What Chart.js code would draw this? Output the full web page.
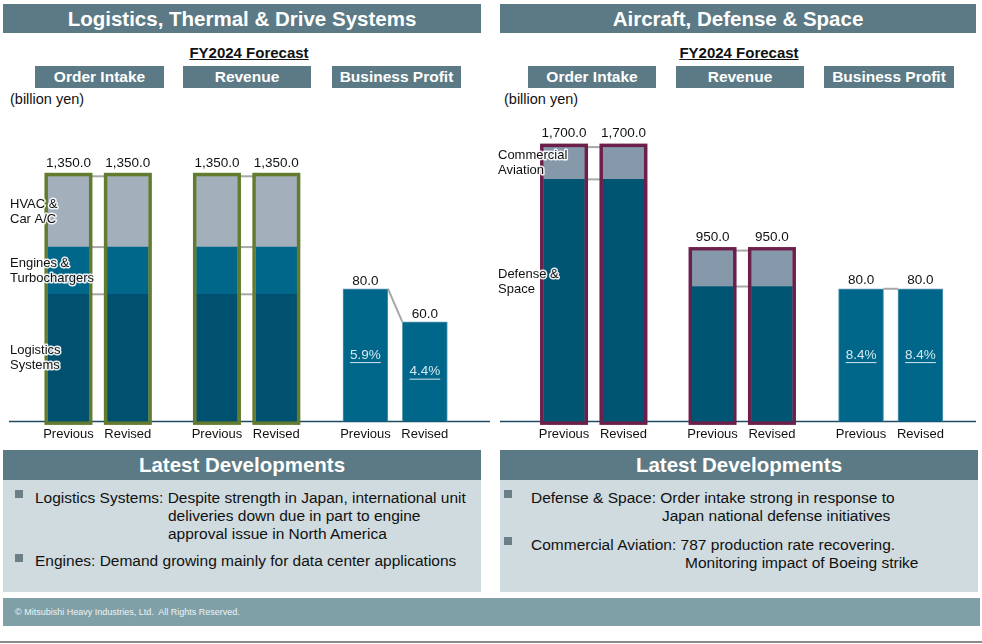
<!DOCTYPE html>
<html>
<head>
<meta charset="utf-8">
<script src="https://cdn.jsdelivr.net/npm/chart.js@4.4.1/dist/chart.umd.min.js"></script>
<style>
  body { margin: 0; background: #fff; font-family: "Liberation Sans", Arial, sans-serif; color: #111; }
  #page { position: relative; width: 982px; height: 644px; overflow: hidden; }
  .band { position: absolute; background: #5b7a85; color: #fff; font-weight: bold; text-align: center; }
  .title { top: 4px; height: 29px; line-height: 29px; font-size: 20.5px; }
  .sub { top: 66px; height: 22px; line-height: 22px; font-size: 15.5px; }
  .ld { top: 450px; height: 30px; line-height: 30px; font-size: 20.5px; }
  .fy { position: absolute; top: 44px; width: 200px; font-size: 15px; font-weight: bold; text-decoration: underline; text-align: center; }
  .unit { position: absolute; top: 91px; font-size: 14.5px; }
  .body { position: absolute; top: 480px; height: 112px; background: #cfdbdf; }
  .line { position: absolute; font-size: 15.5px; white-space: nowrap; line-height: 18px; }
  .sq { position: absolute; width: 8px; height: 8px; background: #6b7f89; }
  #footer { position: absolute; left: 3px; top: 598px; width: 977px; height: 28px; background: #80a0a8; }
  #footer span { position: absolute; left: 12px; top: 9px; font-size: 9px; color: #eef3f5; }
  #rule { position: absolute; left: 0; top: 641px; width: 982px; height: 2px; background: #8a8a8a; }
  canvas { position: absolute; }
</style>
</head>
<body>
<div id="page">
  <div class="band title" style="left:3px;width:478px">Logistics, Thermal &amp; Drive Systems</div>
  <div class="band title" style="left:500px;width:476px">Aircraft, Defense &amp; Space</div>

  <div class="fy" style="left:149px">FY2024 Forecast</div>
  <div class="fy" style="left:639px">FY2024 Forecast</div>

  <div class="band sub" style="left:35px;width:129px">Order Intake</div>
  <div class="band sub" style="left:183px;width:128px">Revenue</div>
  <div class="band sub" style="left:332px;width:129px">Business Profit</div>
  <div class="band sub" style="left:528px;width:128px">Order Intake</div>
  <div class="band sub" style="left:676px;width:128px">Revenue</div>
  <div class="band sub" style="left:824px;width:130px">Business Profit</div>

  <div class="unit" style="left:10px">(billion yen)</div>
  <div class="unit" style="left:504px">(billion yen)</div>

  <canvas id="ltdChart" width="490" height="340" style="left:0;top:110px"></canvas>
  <canvas id="adsChart" width="492" height="340" style="left:490px;top:110px"></canvas>

  <div class="band ld" style="left:3px;width:478px">Latest Developments</div>
  <div class="band ld" style="left:500px;width:478px">Latest Developments</div>
  <div class="body" style="left:3px;width:478px"></div>
  <div class="body" style="left:500px;width:478px"></div>

  <div class="sq" style="left:15px;top:490px"></div>
  <div class="line" style="left:35px;top:489px">Logistics Systems: Despite strength in Japan, international unit</div>
  <div class="line" style="left:168px;top:507px">deliveries down due in part to engine</div>
  <div class="line" style="left:168px;top:525px">approval issue in North America</div>
  <div class="sq" style="left:15px;top:554px"></div>
  <div class="line" style="left:35px;top:552px">Engines: Demand growing mainly for data center applications</div>

  <div class="sq" style="left:504px;top:490px"></div>
  <div class="line" style="left:531px;top:489px">Defense &amp; Space: Order intake strong in response to</div>
  <div class="line" style="left:662px;top:507px">Japan national defense initiatives</div>
  <div class="sq" style="left:504px;top:537px"></div>
  <div class="line" style="left:531px;top:536px">Commercial Aviation: 787 production rate recovering.</div>
  <div class="line" style="left:685px;top:554px">Monitoring impact of Boeing strike</div>

  <div id="footer"><span>&copy; Mitsubishi Heavy Industries, Ltd.&nbsp; All Rights Reserved.</span></div>
  <div id="rule"></div>
</div>

<script>
const periods = ["Previous", "Revised"];

// Logistics, Thermal & Drive Systems (billion yen)
const ltdLogisticsOrder = [700, 700];
const ltdEnginesOrder = [260, 260];
const ltdHvacOrder = [390, 390];
const ltdLogisticsRevenue = [700, 700];
const ltdEnginesRevenue = [260, 260];
const ltdHvacRevenue = [390, 390];
const ltdProfit = [80, 60];
const ltdMargin = ["5.9%", "4.4%"];

// Aircraft, Defense & Space (billion yen)
const adsDefenseOrder = [1500, 1500];
const adsCommercialOrder = [200, 200];
const adsDefenseRevenue = [750, 750];
const adsCommercialRevenue = [200, 200];
const adsProfit = [80, 80];
const adsMargin = ["8.4%", "8.4%"];

// each panel is one category axis; bars sit on some slots, the rest are gaps
const slotCount = 13;
const orderSlots = [0, 2];
const revenueSlots = [5, 7];
const profitSlots = [10, 12];

function spread(values, slots) {
  const out = new Array(slotCount).fill(null);
  slots.forEach((s, i) => { out[s] = values[i]; });
  return out;
}

const slotLabels = new Array(slotCount).fill("");
[orderSlots, revenueSlots, profitSlots].forEach(slots => {
  slots.forEach((s, i) => { slotLabels[s] = periods[i]; });
});

const FONT = '"Liberation Sans", Arial, sans-serif';

function fmt(v) {
  return v.toLocaleString("en-US", { minimumFractionDigits: 1, maximumFractionDigits: 1 });
}

// frames, connector lines, totals, margins and segment names
function makeDecor(cfg) {
  return {
    id: "slideDecor",
    beforeDatasetsDraw(chart) {
      const ctx = chart.ctx;
      const y0 = chart.scales[cfg.baseAxis].getPixelForValue(0);
      ctx.save();
      ctx.strokeStyle = "#1d4b63";
      ctx.lineWidth = 1.5;
      ctx.beginPath();
      ctx.moveTo(cfg.baseFrom, y0);
      ctx.lineTo(cfg.baseTo, y0);
      ctx.stroke();

      ctx.strokeStyle = "#a8a8a8";
      ctx.lineWidth = 2;
      cfg.groups.forEach(g => {
        const [a, b] = g.slots;
        g.datasets.forEach(d => {
          const els = chart.getDatasetMeta(d).data;
          ctx.beginPath();
          ctx.moveTo(els[a].x + els[a].width / 2, els[a].y);
          ctx.lineTo(els[b].x - els[b].width / 2, els[b].y);
          ctx.stroke();
        });
      });
      ctx.restore();
    },
    afterDatasetsDraw(chart) {
      const ctx = chart.ctx;
      const y0 = chart.scales[cfg.baseAxis].getPixelForValue(0);
      ctx.save();
      cfg.groups.forEach(g => {
        g.slots.forEach(s => {
          let top = y0, x = 0, w = 0, total = 0;
          g.datasets.forEach(d => {
            const el = chart.getDatasetMeta(d).data[s];
            top = Math.min(top, el.y);
            x = el.x;
            w = el.width;
            total += chart.data.datasets[d].data[s];
          });
          if (g.frame) {
            ctx.strokeStyle = g.frame;
            ctx.lineWidth = 3.5;
            ctx.strokeRect(x - w / 2 - 1.75, top - 1.75, w + 3.5, y0 - top + 3.5);
          }
          ctx.fillStyle = "#111";
          ctx.font = "13.5px " + FONT;
          ctx.textAlign = "center";
          ctx.textBaseline = "middle";
          ctx.fillText(fmt(total), x, top - g.labelGap);
        });
        if (g.margins) {
          g.slots.forEach((s, i) => {
            const el = chart.getDatasetMeta(g.datasets[0]).data[s];
            const ym = (el.y + el.base) / 2;
            const txt = g.margins[i];
            ctx.font = "13.5px " + FONT;
            ctx.fillStyle = "#d4e7f0";
            ctx.fillText(txt, el.x, ym);
            const tw = ctx.measureText(txt).width;
            ctx.fillRect(el.x - tw / 2, ym + 7, tw, 1);
          });
        }
      });

      ctx.font = "13px " + FONT;
      ctx.textAlign = "left";
      ctx.textBaseline = "middle";
      ctx.lineJoin = "round";
      cfg.segments.forEach(sg => {
        const el = chart.getDatasetMeta(sg.dataset).data[sg.slot];
        const mid = (el.y + el.base) / 2 + (sg.shift || 0);
        sg.lines.forEach((t, i) => {
          const y = mid + (i - (sg.lines.length - 1) / 2) * 15;
          ctx.strokeStyle = "rgba(255,255,255,0.9)";
          ctx.lineWidth = 3;
          ctx.strokeText(t, cfg.labelX, y);
          ctx.fillStyle = "#111";
          ctx.fillText(t, cfg.labelX, y);
        });
      });
      ctx.restore();
    }
  };
}

function baseOptions(padLeft, padRight, yScales) {
  const scales = {
    x: {
      stacked: true,
      grid: { display: false, drawTicks: false },
      border: { display: false },
      ticks: {
        autoSkip: false, maxRotation: 0, minRotation: 0, padding: 5,
        color: "#111", font: { family: FONT, size: 13 }
      }
    }
  };
  Object.keys(yScales).forEach(id => {
    scales[id] = { stacked: true, display: false, min: 0, max: yScales[id] };
  });
  return {
    responsive: false,
    animation: false,
    layout: { padding: { left: padLeft, right: padRight, top: 10, bottom: 3 } },
    scales: scales,
    plugins: {
      legend: { display: false },
      tooltip: { enabled: false }
    }
  };
}

const C_LOG = "#00516f";
const C_ENG = "#00678a";
const C_HVAC = "#a3b0bb";
const C_DEF = "#005672";
const C_COM = "#8599aa";
const C_PROFIT = "#00678a";

function stackBar(label, values, slots, color, axis) {
  return {
    label, data: spread(values, slots), backgroundColor: color, yAxisID: axis, stack: "s",
    barThickness: 41, clip: false
  };
}
function profitBar(label, values, color, axis) {
  return {
    label, data: spread(values, profitSlots), backgroundColor: color, yAxisID: axis, stack: "s",
    barThickness: 45, borderWidth: 1, borderColor: "#5e9bb3", clip: false
  };
}

new Chart(document.getElementById("ltdChart"), {
  type: "bar",
  data: {
    labels: slotLabels,
    datasets: [
      stackBar("Logistics Systems", ltdLogisticsOrder, orderSlots, C_LOG, "yMain"),
      stackBar("Engines & Turbochargers", ltdEnginesOrder, orderSlots, C_ENG, "yMain"),
      stackBar("HVAC & Car A/C", ltdHvacOrder, orderSlots, C_HVAC, "yMain"),
      stackBar("Logistics Systems", ltdLogisticsRevenue, revenueSlots, C_LOG, "yMain"),
      stackBar("Engines & Turbochargers", ltdEnginesRevenue, revenueSlots, C_ENG, "yMain"),
      stackBar("HVAC & Car A/C", ltdHvacRevenue, revenueSlots, C_HVAC, "yMain"),
      profitBar("Business Profit", ltdProfit, C_PROFIT, "yProfit")
    ]
  },
  options: baseOptions(53.6, 50.3, { yMain: 1660, yProfit: 181.8 }),
  plugins: [makeDecor({
    baseAxis: "yMain", baseFrom: 9, baseTo: 490, labelX: 10,
    groups: [
      { datasets: [0, 1, 2], slots: orderSlots, frame: "#627b2e", labelGap: 13 },
      { datasets: [3, 4, 5], slots: revenueSlots, frame: "#627b2e", labelGap: 13 },
      { datasets: [6], slots: profitSlots, labelGap: 7.5, margins: ltdMargin }
    ],
    segments: [
      { dataset: 2, slot: 0, lines: ["HVAC &", "Car A/C"] },
      { dataset: 1, slot: 0, lines: ["Engines &", "Turbochargers"] },
      { dataset: 0, slot: 0, lines: ["Logistics", "Systems"] }
    ]
  })]
});

new Chart(document.getElementById("adsChart"), {
  type: "bar",
  data: {
    labels: slotLabels,
    datasets: [
      stackBar("Defense & Space", adsDefenseOrder, orderSlots, C_DEF, "yOrder"),
      stackBar("Commercial Aviation", adsCommercialOrder, orderSlots, C_COM, "yOrder"),
      stackBar("Defense & Space", adsDefenseRevenue, revenueSlots, C_DEF, "yRevenue"),
      stackBar("Commercial Aviation", adsCommercialRevenue, revenueSlots, C_COM, "yRevenue"),
      profitBar("Business Profit", adsProfit, C_PROFIT, "yProfit")
    ]
  },
  options: baseOptions(59.2, 46.7, { yOrder: 1868, yRevenue: 1676, yProfit: 181.8 }),
  plugins: [makeDecor({
    baseAxis: "yOrder", baseFrom: 10, baseTo: 486, labelX: 8,
    groups: [
      { datasets: [0, 1], slots: orderSlots, frame: "#6b1f4a", labelGap: 13.5 },
      { datasets: [2, 3], slots: revenueSlots, frame: "#6b1f4a", labelGap: 13.5 },
      { datasets: [4], slots: profitSlots, labelGap: 8, margins: adsMargin }
    ],
    segments: [
      { dataset: 1, slot: 0, lines: ["Commercial", "Aviation"] },
      { dataset: 0, slot: 0, lines: ["Defense &", "Space"], shift: -18 }
    ]
  })]
});
</script>
</body>
</html>
